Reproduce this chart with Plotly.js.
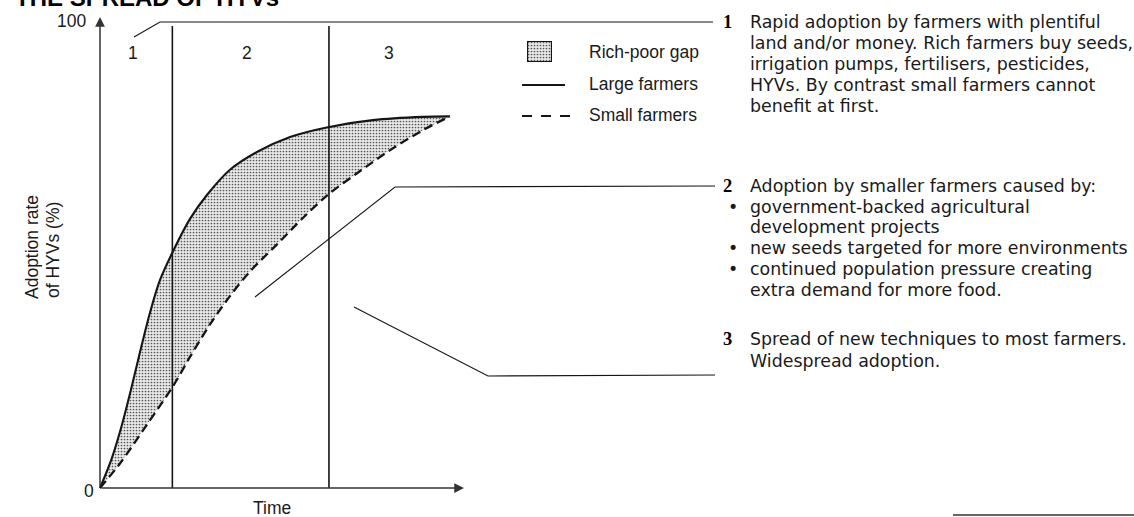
<!DOCTYPE html>
<html><head><meta charset="utf-8">
<script src="https://cdn.plot.ly/plotly-3.0.1.min.js"></script>
<style>html,body{margin:0;padding:0;background:#fff;}#chart{width:1134px;height:517px;}</style>
</head><body><div id="chart"></div>
<script>
// ---------------- DATA ----------------
const largeTime = [0, 3.3, 6.1, 8.6, 11.1, 13.9, 16.7, 20.3, 25, 29.7, 36.1, 43.6, 52.8, 63.3, 75.8, 89.7, 97.2];
const largeRate = [0, 6.4, 13.5, 21.0, 29.0, 37.5, 44.5, 50.6, 57.5, 62.6, 68.0, 71.8, 75.0, 77.1, 78.6, 79.3, 79.4];
const smallTime = [0, 5.6, 13.0, 20.4, 25, 30.6, 36.1, 41.7, 49.1, 56.5, 63.2, 71.3, 80.6, 89.8, 97.2];
const smallRate = [0, 5.3, 13.5, 21.9, 28.0, 35.0, 41.0, 46.3, 52.0, 57.8, 62.6, 67.2, 72.2, 76.5, 79.4];
const phaseBounds = [20.1, 63.6];
const phaseLabels = ['1', '2', '3'];
const phaseLabelTime = [9.2, 40.8, 80.3];
const yTickVals = [0, 100];
const yTickText = ['0', '100'];
const legendLabels = ['Rich-poor gap', 'Large farmers', 'Small farmers'];
const titleText = 'THE SPREAD OF HYVs';
const xTitle = 'Time';
const yTitleLines = ['Adoption rate', 'of HYVs (%)'];
const note1 = ['Rapid adoption by farmers with plentiful', 'land and/or money. Rich farmers buy seeds,', 'irrigation pumps, fertilisers, pesticides,', 'HYVs. By contrast small farmers cannot', 'benefit at first.'];
const note2 = ['Adoption by smaller farmers caused by:', 'government-backed agricultural', 'development projects', 'new seeds targeted for more environments', 'continued population pressure creating', 'extra demand for more food.'];
const note2Bullet = [false, true, false, true, true, false];
const note3 = ['Spread of new techniques to most farmers.', 'Widespread adoption.'];

// ---------------- LAYOUT HELPERS (pixel -> axis units) ----------------
const W = 1134, H = 517, OX = 100, OY = 488, SX = 3.6, SY = 4.68;
const X = px => (px - OX) / SX;
const Y = py => (OY - py) / SY;

const ink = '#151515';
const txt = '#1a1a1a';
const arial = 'Liberation Sans, Arial, sans-serif';
const bodyFont = 'DejaVu Sans, sans-serif';
const pattern = {shape: '.', size: 3, solidity: 0.26, fgcolor: '#555', bgcolor: '#e9e9e9'};

const traces = [
  {x: smallTime, y: smallRate, mode: 'lines', hoverinfo: 'skip', showlegend: false,
   line: {color: ink, width: 2.3, dash: '9px,5px', shape: 'spline', smoothing: 0.9}},
  {x: largeTime, y: largeRate, mode: 'lines', hoverinfo: 'skip', showlegend: false,
   fill: 'tonexty', fillcolor: '#e9e9e9', fillpattern: pattern,
   line: {color: ink, width: 2.1, shape: 'spline', smoothing: 0.9}},
  // legend key for the shaded gap (unit square in its own tiny axes)
  {x: [0, 1, 1, 0, 0], y: [0, 0, 1, 1, 0], xaxis: 'x2', yaxis: 'y2', mode: 'lines', fill: 'toself',
   fillcolor: '#e9e9e9', fillpattern: pattern, hoverinfo: 'skip', showlegend: false,
   line: {color: ink, width: 2.2}}
];

const shapes = [];
phaseBounds.forEach(b => shapes.push({type: 'line', xref: 'x', yref: 'y', x0: b, x1: b, y0: 0, y1: Y(26),
  line: {color: ink, width: 1.6}}));
const callouts = [
  [[134, 37], [160, 22], [713, 22]],
  [[255, 297], [395, 187], [715, 186]],
  [[354, 307], [488, 376], [715, 375]]
];
callouts.forEach(c => {
  const p = c.map((q, i) => (i ? 'L' : 'M') + X(q[0]) + ',' + Y(q[1])).join(' ');
  shapes.push({type: 'path', xref: 'x', yref: 'y', path: p, line: {color: ink, width: 1.1}});
});
// legend lines
shapes.push({type: 'line', xref: 'x', yref: 'y', x0: X(522), x1: X(565), y0: Y(85), y1: Y(85), line: {color: ink, width: 1.8}});
shapes.push({type: 'line', xref: 'x', yref: 'y', x0: X(522), x1: X(570), y0: Y(116), y1: Y(116), line: {color: ink, width: 2.2, dash: '10px,9px'}});
// scan edge line bottom right
shapes.push({type: 'line', xref: 'x', yref: 'y', x0: X(953), x1: X(1134), y0: Y(515), y1: Y(515), line: {color: '#333', width: 1.4}});

const ann = [];
// axes arrows
ann.push({x: 0, y: Y(17), ax: 0, ay: 0, axref: 'x', ayref: 'y', xref: 'x', yref: 'y', text: '', showarrow: true,
  arrowhead: 2, arrowsize: 1.3, arrowwidth: 1.5, arrowcolor: '#333', standoff: 0, startstandoff: 0});
ann.push({x: X(464), y: 0, ax: 0, ay: 0, axref: 'x', ayref: 'y', xref: 'x', yref: 'y', text: '', showarrow: true,
  arrowhead: 2, arrowsize: 1.3, arrowwidth: 1.5, arrowcolor: '#333', standoff: 0, startstandoff: 0});
const af = {family: arial, size: 17.5, color: txt};
// tick labels
ann.push({x: X(96), y: yTickVals[0] - 0.6, text: yTickText[0], showarrow: false, xanchor: 'right', yanchor: 'middle', font: af});
ann.push({x: X(88), y: Y(21), text: yTickText[1], showarrow: false, xanchor: 'right', yanchor: 'middle', font: af});
// phase labels
phaseLabels.forEach((l, i) => ann.push({x: phaseLabelTime[i], y: Y(53), text: l, showarrow: false, font: af}));
// axis titles
ann.push({x: X(272), y: Y(507.5), text: xTitle, showarrow: false, font: af});
ann.push({x: X(32), y: Y(247), text: yTitleLines[0], textangle: -90, showarrow: false, font: af});
ann.push({x: X(53), y: Y(250), text: yTitleLines[1], textangle: -90, showarrow: false, font: af});
// title (cut by the top edge, as in the source)
ann.push({xref: 'paper', yref: 'paper', x: 13 / W, y: 1 - 13 / H, text: '<b>' + titleText + '</b>', xanchor: 'left', yanchor: 'bottom',
  showarrow: false, font: {family: arial, size: 24, color: '#000'}});
// legend text
[52, 84, 115].forEach((py, i) => ann.push({x: X(587), y: Y(py), text: legendLabels[i], xanchor: 'left', yanchor: 'middle', showarrow: false, font: af}));
// right notes
const bf = {family: bodyFont, size: 17.4, color: txt};
const nf = {family: 'Liberation Serif, serif', size: 18.5, color: '#000'};
const textX = 748, numX = 727, bulletX = 733;
const addLines = (lines, ys, bullets) => lines.forEach((l, i) => {
  ann.push({x: X(textX), y: Y(ys[i]), text: l, xanchor: 'left', yanchor: 'middle', showarrow: false, font: bf});
  if (bullets && bullets[i]) ann.push({x: X(bulletX), y: Y(ys[i]), text: '•', showarrow: false, font: bf});
});
addLines(note1, [22, 43, 64, 85, 106]);
addLines(note2, [186, 206.5, 227, 248, 269, 290], note2Bullet);
addLines(note3, [339, 361]);
[[22, '1'], [186, '2'], [339, '3']].forEach(n => ann.push({x: X(numX), y: Y(n[0]), text: '<b>' + n[1] + '</b>', showarrow: false, font: nf}));

const layout = {
  width: W, height: H, margin: {l: 0, r: 0, t: 0, b: 0},
  paper_bgcolor: '#fff', plot_bgcolor: '#fff', showlegend: false,
  xaxis: {range: [X(0), X(W)], visible: false, fixedrange: true},
  yaxis: {range: [Y(H), Y(0)], visible: false, fixedrange: true},
  xaxis2: {domain: [527 / W, 552 / W], range: [0, 1], visible: false, anchor: 'y2', fixedrange: true},
  yaxis2: {domain: [1 - 62 / H, 1 - 41 / H], range: [0, 1], visible: false, anchor: 'x2', fixedrange: true},
  shapes: shapes, annotations: ann
};
Plotly.newPlot('chart', traces, layout, {staticPlot: true, displayModeBar: false});
</script></body></html>
